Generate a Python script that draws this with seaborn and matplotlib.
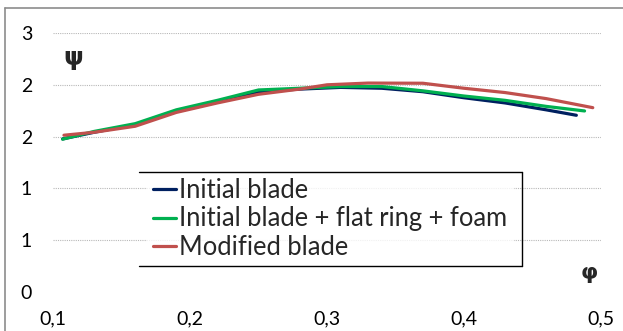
import matplotlib
matplotlib.use("Agg")
import matplotlib.pyplot as plt
from matplotlib.lines import Line2D
from matplotlib.ticker import FixedLocator, FixedFormatter
import numpy as np
import pandas as pd
import seaborn as sns

# Pressure coefficient psi versus flow coefficient phi
phi_initial = [0.107, 0.13, 0.16, 0.19, 0.22, 0.25, 0.28, 0.31, 0.34, 0.37, 0.40, 0.43, 0.46, 0.482]
psi_initial = [1.773, 1.85, 1.94, 2.09, 2.20, 2.32, 2.35, 2.37, 2.36, 2.32, 2.25, 2.19, 2.11, 2.047]

phi_ring = [0.107, 0.13, 0.16, 0.19, 0.22, 0.25, 0.28, 0.31, 0.34, 0.37, 0.40, 0.43, 0.46, 0.488]
psi_ring = [1.77, 1.86, 1.95, 2.11, 2.22, 2.34, 2.36, 2.38, 2.38, 2.33, 2.27, 2.22, 2.15, 2.097]

phi_modified = [0.108, 0.13, 0.16, 0.19, 0.22, 0.25, 0.28, 0.30, 0.33, 0.37, 0.40, 0.43, 0.46, 0.494]
psi_modified = [1.816, 1.85, 1.92, 2.08, 2.19, 2.29, 2.35, 2.40, 2.42, 2.418, 2.36, 2.31, 2.24, 2.135]

series_names = ["Initial blade", "Initial blade + flat ring + foam", "Modified blade"]
series_colors = ["#002060", "#00B050", "#C0504D"]

x_ticks = [0.1, 0.2, 0.3, 0.4, 0.5]
x_tick_labels = ["0,1", "0,2", "0,3", "0,4", "0,5"]
y_ticks = [0.0, 0.6, 1.2, 1.8, 2.4, 3.0]
y_tick_labels = ["0", "1", "1", "2", "2", "3"]

frames = []
for name, xs, ys in zip(series_names,
                        [phi_initial, phi_ring, phi_modified],
                        [psi_initial, psi_ring, psi_modified]):
    frames.append(pd.DataFrame({"phi": xs, "psi": ys, "series": name}))
data = pd.concat(frames, ignore_index=True)

sns.set_theme(style="white")
plt.rcParams["font.family"] = ["Lato", "DejaVu Sans"]

W, H = 623, 331
fig = plt.figure(figsize=(W / 100, H / 100), dpi=100)
ax = fig.add_axes([53 / W, 1 - 292 / H, (601 - 53) / W, (292 - 33) / H])

sns.lineplot(data=data, x="phi", y="psi", hue="series", hue_order=series_names,
             palette=series_colors, linewidth=2.3, sort=False, estimator=None,
             ax=ax, legend=False)

ax.set_xlim(0.1, 0.5)
ax.set_ylim(0, 3.0)
for s in ax.spines.values():
    s.set_visible(False)

# dotted horizontal gridlines (none at zero)
for yv in y_ticks[1:]:
    ax.axhline(yv, color="#b8b8b8", linestyle=(0, (1, 1)), linewidth=0.8, zorder=0)

ax.xaxis.set_major_locator(FixedLocator(x_ticks))
ax.xaxis.set_major_formatter(FixedFormatter(x_tick_labels))
ax.yaxis.set_major_locator(FixedLocator(y_ticks))
ax.yaxis.set_major_formatter(FixedFormatter(y_tick_labels))
ax.xaxis.set_minor_locator(FixedLocator([0.2, 0.4]))
ax.tick_params(axis="both", which="major", length=0, labelsize=14, colors="black")
ax.tick_params(axis="x", which="major", pad=13)
ax.tick_params(axis="y", which="major", pad=15)
ax.tick_params(axis="x", which="minor", length=5, width=0.8, color="#b0b0b0",
               direction="out", bottom=True)
ax.set_xlabel("")
ax.set_ylabel("")

ax.text(0.037, 0.905, "ψ", transform=ax.transAxes, fontsize=18, fontweight="bold",
        ha="center", va="center", family=["DejaVu Sans"])
ax.text(0.978, 0.075, "φ", transform=ax.transAxes, fontsize=16, fontweight="bold",
        ha="center", va="center", family=["DejaVu Sans"])

# legend: extra horizontal padding is added to the drawn box below
box_dx = 8 / W
handles = [Line2D([0], [0], color=c, linewidth=2.3) for c in series_colors]
leg = ax.legend(handles, series_names, loc="upper left",
                bbox_to_anchor=((147 - 53) / 548, (292 - 172) / 259),
                fontsize=18.4, frameon=True, fancybox=False, handlelength=0.9,
                handletextpad=0.12, labelspacing=0.12, borderpad=0.25,
                borderaxespad=0.0)
leg.get_frame().set_edgecolor("none")
leg.get_frame().set_facecolor("white")

# outer chart frame (left and top edges)
fig.add_artist(Line2D([5 / W, 5 / W], [0, 1 - 8 / H], transform=fig.transFigure,
                      color="#8c8c8c", linewidth=1.2))
fig.add_artist(Line2D([5 / W, 1], [1 - 8 / H, 1 - 8 / H], transform=fig.transFigure,
                      color="#8c8c8c", linewidth=1.2))

# legend box drawn on top, right and bottom sides
fig.canvas.draw()
bb = leg.get_frame().get_window_extent().transformed(fig.transFigure.inverted())
x0, x1 = bb.x0 - box_dx, bb.x1 + box_dx
for xs, ys in [([x0, x1], [bb.y1, bb.y1]),
               ([x1, x1], [bb.y0, bb.y1]),
               ([x0, x1], [bb.y0, bb.y0])]:
    fig.add_artist(Line2D(xs, ys, transform=fig.transFigure, color="black", linewidth=1.0))

fig.savefig("out.png", dpi=100, facecolor="white")
